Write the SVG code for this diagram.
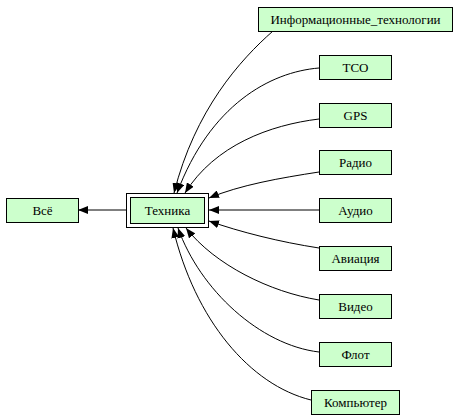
<svg xmlns="http://www.w3.org/2000/svg" width="459" height="419" viewBox="0 0 459 419">
<style>
.n rect{fill:#ccffcc;stroke:#000;stroke-width:1}
.n rect.o{fill:#fff}
.n text{font-family:'Liberation Serif','DejaVu Serif',serif;font-size:13px;text-anchor:middle;fill:#000}
.e path{fill:none;stroke:#000;stroke-width:1;marker-end:url(#ah)}
</style>
<defs>
<marker id="ah" markerUnits="userSpaceOnUse" markerWidth="10" markerHeight="8" refX="10" refY="4" orient="auto">
<path d="M0,0 L10,4 L0,8 z" fill="#000"/>
</marker>
</defs>
<g class="e" id="connectors">
<path d="M126,210 L78,210"/>
<path d="M273,31 C240,60 195,110 174,193"/>
<path d="M319,68 C270,72 210,105 177,193"/>
<path d="M319,119 C270,125 215,145 185,193"/>
<path d="M319,172 C280,178 240,185 209,198"/>
<path d="M319,210 L209,210"/>
<path d="M319,248 C280,242 240,232 209,221"/>
<path d="M319,300 C270,292 215,265 186,228"/>
<path d="M319,352 C260,345 200,290 178,228"/>
<path d="M311,400 C250,385 195,320 173,228"/>
</g>
<g class="n" id="n-vse"><rect x="6.5" y="198.5" width="72" height="24"/><text x="42.5" y="215">Всё</text></g>
<g class="n" id="n-tehnika"><rect class="o" x="126.5" y="193.5" width="82" height="34"/><rect x="130.5" y="197.5" width="74" height="26"/><text x="167.5" y="215">Техника</text></g>
<g class="n" id="n-info"><rect x="258.5" y="7.5" width="194" height="24"/><text x="355.5" y="24">Информационные_технологии</text></g>
<g class="n" id="n-tco"><rect x="319.5" y="55.5" width="72" height="24"/><text x="355.5" y="72">TCO</text></g>
<g class="n" id="n-gps"><rect x="319.5" y="103.5" width="72" height="24"/><text x="355.5" y="120">GPS</text></g>
<g class="n" id="n-radio"><rect x="319.5" y="150.5" width="72" height="24"/><text x="355.5" y="167">Радио</text></g>
<g class="n" id="n-audio"><rect x="319.5" y="198.5" width="72" height="24"/><text x="355.5" y="215">Аудио</text></g>
<g class="n" id="n-aviacia"><rect x="319.5" y="246.5" width="72" height="24"/><text x="355.5" y="263">Авиация</text></g>
<g class="n" id="n-video"><rect x="319.5" y="294.5" width="72" height="24"/><text x="355.5" y="311">Видео</text></g>
<g class="n" id="n-flot"><rect x="319.5" y="342.5" width="72" height="24"/><text x="355.5" y="359">Флот</text></g>
<g class="n" id="n-komp"><rect x="311.5" y="390.5" width="88" height="24"/><text x="355.5" y="407">Компьютер</text></g>
</svg>
